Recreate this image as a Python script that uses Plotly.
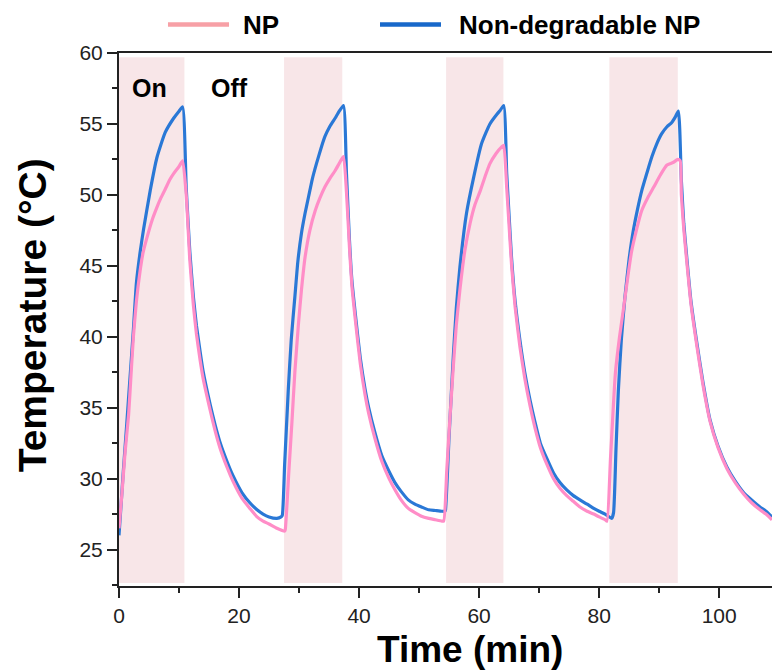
import plotly.graph_objects as go

# ---------------- data ----------------
t_nondeg = [0, 0.7, 1.3, 1.8, 2.4, 2.9, 3.5, 4.1, 5.2, 6.3, 7.7, 9.1, 10.0, 10.6,
            11.2, 11.8, 12.4, 12.9, 13.5, 14.0, 15.2, 16.0, 16.8, 18.0, 19.0, 20.5, 21.8, 23.0, 24.0, 25.0, 26.3, 27.0,
            27.2, 27.6, 28.2, 28.7, 29.3, 29.8, 30.4, 31.0, 31.6, 32.2, 32.9, 33.6, 34.3, 35.1, 36.0, 36.7, 37.4,
            37.9, 38.4, 38.8, 39.4, 40.2, 41.0, 41.6, 42.6, 43.8, 45.0, 46.0, 47.0, 48.2, 49.3, 50.4, 51.6, 52.7, 53.8, 54.3,
            54.4, 55.0, 55.7, 56.2, 56.8, 57.9, 59.1, 60.4, 61.8, 63.0, 63.5, 64.1,
            64.6, 65.0, 65.4, 66.0, 66.8, 67.6, 68.5, 69.3, 70.2, 71.3, 72.4, 73.5, 74.6, 75.7, 76.8, 78.0, 79.1, 80.0, 81.0, 82.1,
            82.4, 82.8, 83.2, 83.7, 84.3, 85.0, 85.7, 86.4, 87.1, 88.0, 88.8, 89.6, 90.4, 91.3, 92.1, 92.7, 93.2,
            93.7, 94.1, 94.6, 95.3, 96.3, 97.3, 98.5, 99.8, 101.3, 102.7, 104.1, 105.4, 106.8, 107.8, 108.8]
temp_nondeg = [26.0, 30.4, 33.9, 36.9, 40.5, 43.8, 45.9, 47.6, 50.3, 52.6, 54.4, 55.4, 55.9, 56.2,
               50.5, 46.0, 42.8, 40.8, 39.0, 37.6, 35.2, 33.8, 32.6, 31.2, 30.2, 29.0, 28.3, 27.8, 27.5, 27.3, 27.2, 27.3,
               27.4, 31.0, 36.2, 39.8, 42.8, 45.3, 47.3, 48.7, 49.9, 51.1, 52.2, 53.2, 54.1, 54.8, 55.4, 55.9, 56.3,
               51.5, 46.8, 44.0, 41.5, 38.5, 36.3, 35.0, 33.3, 31.6, 30.5, 29.7, 29.1, 28.5, 28.2, 28.0, 27.8, 27.75, 27.7, 27.7,
               27.8, 33.0, 38.6, 42.0, 44.9, 48.7, 51.25, 53.6, 55.0, 55.7, 55.95, 56.3,
               51.5, 48.5, 45.6, 42.5, 39.75, 37.5, 35.5, 34.0, 32.5, 31.4, 30.4, 29.7, 29.2, 28.8, 28.5, 28.2, 27.9, 27.7, 27.5, 27.2,
               27.6, 32.0, 36.2, 39.8, 42.8, 45.5, 47.5, 49.0, 50.3, 51.6, 52.7, 53.6, 54.3, 54.8, 55.1, 55.5, 55.9,
               51.0, 48.0, 45.6, 42.5, 39.5, 36.8, 34.1, 32.3, 30.8, 29.8, 29.0, 28.5, 28.0, 27.7, 27.3]

t_np = [0, 0.5, 1.0, 1.6, 2.0, 2.4, 2.9, 3.5, 4.0, 4.6, 5.5, 6.3, 7.0, 7.7, 8.5, 9.1, 10.0, 10.6,
        11.2, 11.8, 12.4, 12.9, 13.5, 14.0, 15.2, 16.0, 16.8, 18.0, 19.0, 20.5, 21.8, 23.0, 24.0, 25.0, 26.3, 27.6,
        27.7, 28.3, 28.8, 29.3, 29.9, 30.4, 31.0, 31.8, 32.7, 33.5, 34.3, 35.2, 36.0, 36.8, 37.4,
        37.9, 38.4, 38.8, 39.4, 40.2, 41.0, 41.6, 42.6, 43.8, 45.0, 46.0, 47.0, 48.2, 49.3, 50.4, 51.6, 52.7, 53.8, 54.1,
        54.6, 55.1, 55.7, 56.2, 56.8, 57.6, 58.5, 59.3, 60.2, 61.0, 61.8, 62.8, 63.8, 64.1,
        64.6, 65.0, 65.4, 66.0, 66.8, 67.6, 68.5, 69.3, 70.2, 71.3, 72.4, 73.5, 74.6, 75.7, 76.8, 78.0, 79.1, 80.0, 81.0, 81.3,
        81.9, 82.7, 83.4, 84.1, 84.8, 85.4, 86.2, 87.1, 88.1, 89.1, 90.2, 91.3, 92.4, 93.1, 93.5,
        93.7, 94.1, 94.6, 95.3, 96.3, 97.3, 98.5, 99.8, 101.3, 102.7, 104.1, 105.4, 106.8, 107.8, 108.8]
temp_np = [26.5, 29.0, 31.8, 34.5, 37.3, 40.0, 42.5, 44.6, 45.9, 46.9, 48.2, 49.1, 49.8, 50.4, 51.1, 51.5, 52.0, 52.4,
           50.0, 45.4, 42.2, 40.2, 38.4, 37.1, 34.8, 33.4, 32.2, 30.8, 29.8, 28.6, 27.9, 27.3, 27.0, 26.8, 26.5, 26.3,
           26.4, 30.5, 33.9, 37.5, 40.9, 43.3, 45.6, 47.5, 48.9, 49.8, 50.55, 51.2, 51.7, 52.3, 52.7,
           50.2, 46.3, 43.6, 41.1, 38.1, 35.9, 34.6, 32.9, 31.2, 30.0, 29.2, 28.5, 27.9, 27.6, 27.35, 27.2, 27.1, 27.0, 27.0,
           30.5, 34.0, 37.9, 40.8, 43.3, 46.0, 48.0, 49.3, 50.3, 51.3, 52.2, 52.9, 53.4, 53.5,
           50.5, 47.8, 45.1, 42.1, 39.3, 37.1, 35.1, 33.6, 32.2, 31.0, 30.0, 29.3, 28.8, 28.4, 28.0, 27.7, 27.5, 27.3, 27.1, 27.0,
           31.5, 37.4, 40.0, 42.1, 44.3, 46.0, 47.5, 48.9, 49.8, 50.55, 51.4, 52.1, 52.3, 52.5, 52.4,
           50.0, 47.6, 45.3, 42.3, 39.3, 36.6, 34.0, 32.2, 30.7, 29.7, 28.9, 28.3, 27.8, 27.5, 27.1]

on_start = [0, 27.5, 54.5, 81.7]
on_end = [10.9, 37.2, 64.05, 93.1]

series_names = ["NP", "Non-degradable NP"]
x_ticks = [0, 20, 40, 60, 80, 100]
y_ticks = [25, 30, 35, 40, 45, 50, 55, 60]

# ---------------- styling ----------------
FONT = "Liberation Sans, Arial, sans-serif"
AX = "#222222"
PINK_LINE = "#FF8DC7"
BLUE_LINE = "#2A78D6"
PINK_LEG = "#F7A0A6"
BLUE_LEG = "#1868CA"
SHADE = "#F8E6E8"

X_RANGE = [0, 108.8]
Y_RANGE = [22.43, 60]

fig = go.Figure()

fig.add_trace(go.Scatter(x=t_nondeg, y=temp_nondeg, mode="lines", name=series_names[1],
                         line=dict(color=BLUE_LINE, width=3.2, shape="spline", smoothing=0.5),
                         showlegend=False))
fig.add_trace(go.Scatter(x=t_np, y=temp_np, mode="lines", name=series_names[0],
                         line=dict(color=PINK_LINE, width=3.2, shape="spline", smoothing=0.5),
                         showlegend=False))

# shaded "On" periods
for s, e in zip(on_start, on_end):
    fig.add_shape(type="rect", xref="x", yref="y", x0=s, x1=e, y0=22.65, y1=59.7,
                  fillcolor=SHADE, line=dict(width=0), layer="below")

# On / Off labels
fig.add_annotation(x=5.1, y=57.5, xref="x", yref="y", text="On", showarrow=False,
                   font=dict(family=FONT, size=25, color="black", weight="bold"))
fig.add_annotation(x=18.4, y=57.5, xref="x", yref="y", text="Off", showarrow=False,
                   font=dict(family=FONT, size=25, color="black", weight="bold"))

# manual legend (paper coordinates)
leg_y = 1.0534
fig.add_shape(type="line", xref="paper", yref="paper", x0=0.075, x1=0.1685, y0=leg_y, y1=leg_y,
              line=dict(color=PINK_LEG, width=4.5))
fig.add_annotation(x=0.187, y=leg_y, xref="paper", yref="paper", text=series_names[0], showarrow=False,
                   xanchor="left", yanchor="middle",
                   font=dict(family=FONT, size=26, color="black", weight="bold"))
fig.add_shape(type="line", xref="paper", yref="paper", x0=0.3997, x1=0.4931, y0=leg_y, y1=leg_y,
              line=dict(color=BLUE_LEG, width=4.5))
fig.add_annotation(x=0.517, y=leg_y, xref="paper", yref="paper", text=series_names[1], showarrow=False,
                   xanchor="left", yanchor="middle",
                   font=dict(family=FONT, size=26, color="black", weight="bold"))

# axis titles
fig.add_annotation(x=0.5375, y=-0.12, xref="paper", yref="paper", text="Time (min)", showarrow=False,
                   xanchor="center", yanchor="middle",
                   font=dict(family=FONT, size=37, color="black", weight="bold"))
fig.add_annotation(x=-0.1332, y=0.508, xref="paper", yref="paper", text="Temperature (°C)", showarrow=False,
                   textangle=-90, xanchor="center", yanchor="middle",
                   font=dict(family=FONT, size=39, color="black", weight="bold"))

fig.update_layout(
    width=772, height=672,
    margin=dict(l=119, r=0, t=53, b=86),
    paper_bgcolor="white", plot_bgcolor="white",
    showlegend=False,
    font=dict(family=FONT, size=21, color=AX),
)
fig.update_xaxes(range=X_RANGE, tickvals=x_ticks, ticks="outside", ticklen=10, tickwidth=2,
                 tickcolor=AX, showline=True, linewidth=2, linecolor=AX, mirror=True,
                 showgrid=False, zeroline=False, tickfont=dict(family=FONT, size=21, color=AX),
                 minor=dict(dtick=10, tick0=0, ticks="outside", ticklen=5, tickwidth=2, tickcolor=AX))
fig.update_yaxes(range=Y_RANGE, tickvals=y_ticks, ticks="outside", ticklen=10, tickwidth=2,
                 tickcolor=AX, showline=True, linewidth=2, linecolor=AX, mirror=False,
                 showgrid=False, zeroline=False, tickfont=dict(family=FONT, size=21, color=AX),
                 minor=dict(dtick=2.5, tick0=0, ticks="outside", ticklen=5, tickwidth=2, tickcolor=AX))

fig.write_html("out.html")
